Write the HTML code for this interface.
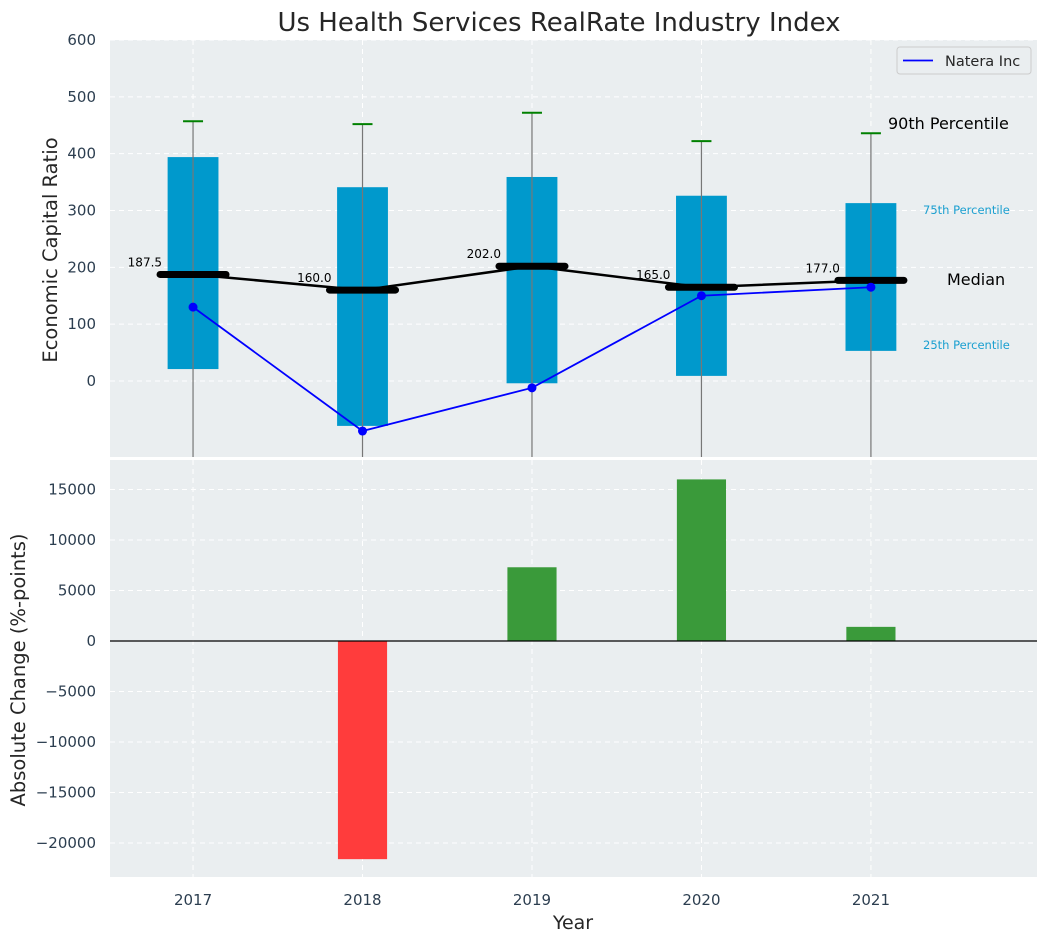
<!DOCTYPE html>
<html><head><meta charset="utf-8"><style>
html,body{margin:0;padding:0;background:#fff;}
svg{display:block;font-family:"DejaVu Sans","Liberation Sans",sans-serif;}
</style></head><body>
<svg id="chart" width="1048" height="942" viewBox="0 0 1048 942">
<g id="g"></g>
</svg>
<script>
const years=[2017,2018,2019,2020,2021];
const p25=[21,-79,-4,9,53];
const p75=[394,341,359,326,313];
const p90=[457,452,472,422,436];
const medians=[187.5,160.0,202.0,165.0,177.0];
const natera=[130,-88,-12,150,165];
const changes=[0,-21600,7300,16000,1400];
const topTicks=[0,100,200,300,400,500,600];
const botTicks=[-20000,-15000,-10000,-5000,0,5000,10000,15000];

const NS='http://www.w3.org/2000/svg';
const g=document.getElementById('g');
function el(tag,attrs,parent,text){const e=document.createElementNS(NS,tag);for(const k in attrs)e.setAttribute(k,attrs[k]);if(text!==undefined)e.textContent=text;(parent||g).appendChild(e);return e;}
const L=110,R=1037,T1=40,B1=457,T2=460,B2=877;
const xmin=2016.51,xmax=2021.98;
const x=v=>L+(v-xmin)/(xmax-xmin)*(R-L);
const y1=v=>381-v*0.5683;
const y2=v=>641-v*0.0101;

let t=el('text',{x:559,y:31,'text-anchor':'middle','font-size':26,fill:'#262626'},g,'Us Health Services RealRate Industry Index');


let p=el('rect',{x:L,y:T1,width:R-L,height:B1-T1,fill:'#eaeef0'});

p=el('rect',{x:L,y:T2,width:R-L,height:B2-T2,fill:'#eaeef0'});


years.forEach(yr=>{
  el('line',{x1:x(yr),x2:x(yr),y1:T1,y2:B1,stroke:'#fff','stroke-dasharray':'5,4','stroke-width':1});
  el('line',{x1:x(yr),x2:x(yr),y1:T2,y2:B2,stroke:'#fff','stroke-dasharray':'5,4','stroke-width':1});
});
topTicks.forEach(v=>{
  el('line',{x1:L,x2:R,y1:y1(v),y2:y1(v),stroke:'#fff','stroke-dasharray':'5,4'});
  const tl=el('text',{x:96,y:y1(v)+5,'text-anchor':'end','font-size':15,fill:'#2c3e50'},g,String(v));
  
});
botTicks.forEach(v=>{
  el('line',{x1:L,x2:R,y1:y2(v),y2:y2(v),stroke:'#fff','stroke-dasharray':'5,4'});
  const tl=el('text',{x:96,y:y2(v)+5,'text-anchor':'end','font-size':15,fill:'#2c3e50'},g,(v<0?'\u2212'+(-v):String(v)));
  
});

const bw=(0.3/(xmax-xmin))*(R-L);
years.forEach((yr,i)=>{
  const b=el('rect',{x:x(yr)-bw/2,y:y1(p75[i]),width:bw,height:y1(p25[i])-y1(p75[i]),fill:'#0099cc'});
  
  const w=el('line',{x1:x(yr),x2:x(yr),y1:y1(p90[i]),y2:B1,stroke:'#777',"stroke-width":1.2});
  
  const c=el('line',{x1:x(yr)-10,x2:x(yr)+10,y1:y1(p90[i]),y2:y1(p90[i]),stroke:'green','stroke-width':2});
  
});
const mpts=years.map((yr,i)=>x(yr)+','+y1(medians[i])).join(' ');
let ml=el('polyline',{points:mpts,fill:'none',stroke:'#000','stroke-width':2.5});

years.forEach((yr,i)=>{
  const m=el('line',{x1:x(yr)-33,x2:x(yr)+33,y1:y1(medians[i]),y2:y1(medians[i]),stroke:'#000','stroke-width':7,'stroke-linecap':'round'});
  
  const lb=el('text',{x:x(yr)-31,y:y1(medians[i])-8,'text-anchor':'end','font-size':12,fill:'#000'},g,medians[i].toFixed(1));
  
});
const npts=years.map((yr,i)=>x(yr)+','+y1(natera[i])).join(' ');
let nl=el('polyline',{points:npts,fill:'none',stroke:'#0000ff','stroke-width':1.8});

years.forEach((yr,i)=>{
  const d=el('circle',{cx:x(yr),cy:y1(natera[i]),r:4.5,fill:'#0000ff'});
  
});
const last=years.length-1;
let a=el('text',{x:888,y:y1(p90[last])-4,'font-size':16,fill:'#000'},g,'90th Percentile');

a=el('text',{x:923,y:214,'font-size':11.5,fill:'#1a9fd0'},g,'75th Percentile');

a=el('text',{x:947,y:285,'font-size':16,fill:'#000'},g,'Median');

a=el('text',{x:923,y:349,'font-size':11.5,fill:'#1a9fd0'},g,'25th Percentile');


let lg=el('g',{});

el('rect',{x:897,y:47,width:134,height:27,rx:3,fill:'#eaeef0',stroke:'#ccc'},lg);
el('line',{x1:903,x2:933,y1:60.5,y2:60.5,stroke:'#0000ff','stroke-width':1.8},lg);
let lt=el('text',{x:945,y:66,'font-size':14.5,fill:'#262626'},lg,'Natera Inc');


const bw2=(0.29/(xmax-xmin))*(R-L);
years.forEach((yr,i)=>{
  const v=changes[i];
  if(v===0)return;
  const top=Math.min(y2(v),y2(0)),h=Math.abs(y2(v)-y2(0));
  const b=el('rect',{x:x(yr)-bw2/2,y:top,width:bw2,height:h,fill:v<0?'#ff3c3c':'#3a9a3a'});
  
});
el('line',{x1:L,x2:R,y1:y2(0),y2:y2(0),stroke:'#000','stroke-width':1.2});

years.forEach(yr=>{
  const tl=el('text',{x:x(yr),y:905,'text-anchor':'middle','font-size':15,fill:'#2c3e50'},g,String(yr));
  
});
let at=el('text',{x:573,y:929,'text-anchor':'middle','font-size':19,fill:'#262626'},g,'Year');

at=el('text',{x:0,y:0,'text-anchor':'middle','font-size':19.5,fill:'#262626',transform:'translate(57,250) rotate(-90)'},g,'Economic Capital Ratio');

at=el('text',{x:0,y:0,'text-anchor':'middle','font-size':19.5,fill:'#262626',transform:'translate(25,670) rotate(-90)'},g,'Absolute Change (%-points)');

</script>
</body></html>
